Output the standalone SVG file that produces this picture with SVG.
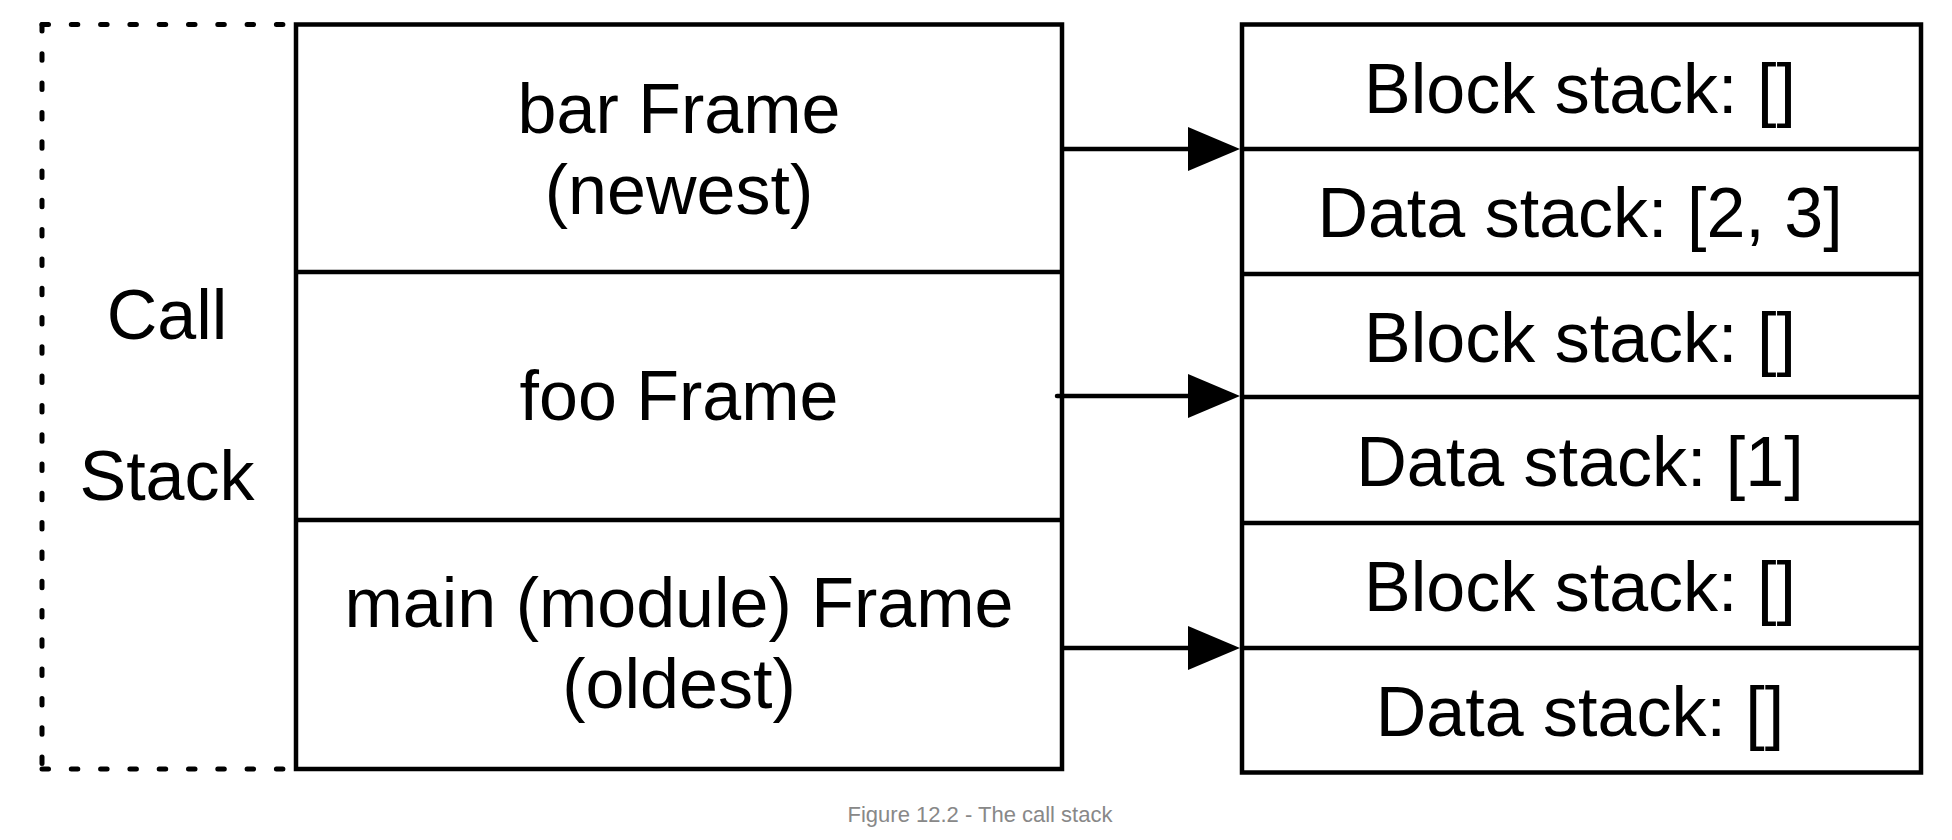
<svg xmlns="http://www.w3.org/2000/svg" width="1952" height="840" viewBox="0 0 1952 840">
<style>
.box{fill:#fff;stroke:#000;stroke-width:4.5}
.sep{stroke:#000;stroke-width:4.5}
.dot{fill:none;stroke:#000;stroke-width:5;stroke-linecap:round;stroke-dasharray:6.5 22.8}
.t{font-family:"Liberation Sans",Arial,Helvetica,sans-serif;font-size:70px;fill:#000;text-anchor:middle}
.cap{font-family:"Liberation Sans",Arial,Helvetica,sans-serif;font-size:22px;fill:#888;text-anchor:middle}
.conn{stroke:#000;stroke-width:4.5;fill:none}
</style>
<defs>
<marker id="arr" markerUnits="userSpaceOnUse" markerWidth="52" markerHeight="44" refX="0" refY="22" orient="auto">
<path d="M0,0 L52,22 L0,44 Z" fill="#000"/>
</marker>
</defs>
<rect width="1952" height="840" fill="#fff"/>
<g id="callstack-label">
<path class="dot" d="M42,24.5 H292"/>
<path class="dot" d="M42,24.5 V769"/>
<path class="dot" d="M42,769 H292"/>
<text class="t" x="167" y="339">Call</text>
<text class="t" x="167" y="500">Stack</text>
</g>
<g id="frames">
<rect class="box" x="296" y="24.5" width="766" height="744.5"/>
<line class="sep" x1="296" y1="272" x2="1062" y2="272"/>
<line class="sep" x1="296" y1="520" x2="1062" y2="520"/>
</g>
<g id="bar-frame">
<text class="t" x="679" y="133">bar Frame</text>
<text class="t" x="679" y="214">(newest)</text>
</g>
<g id="foo-frame">
<text class="t" x="679" y="420">foo Frame</text>
</g>
<g id="main-frame">
<text class="t" x="679" y="627">main (module) Frame</text>
<text class="t" x="679" y="708">(oldest)</text>
</g>
<g id="stacks">
<rect class="box" x="1242" y="24.5" width="679" height="748"/>
<line class="sep" x1="1242" y1="149" x2="1921" y2="149"/>
<line class="sep" x1="1242" y1="274" x2="1921" y2="274"/>
<line class="sep" x1="1242" y1="397" x2="1921" y2="397"/>
<line class="sep" x1="1242" y1="523" x2="1921" y2="523"/>
<line class="sep" x1="1242" y1="648" x2="1921" y2="648"/>
</g>
<g id="bar-stacks">
<text class="t" x="1580" y="113">Block stack: []</text>
<text class="t" x="1580" y="237">Data stack: [2, 3]</text>
</g>
<g id="foo-stacks">
<text class="t" x="1580" y="362">Block stack: []</text>
<text class="t" x="1580" y="486">Data stack: [1]</text>
</g>
<g id="main-stacks">
<text class="t" x="1580" y="611">Block stack: []</text>
<text class="t" x="1580" y="736">Data stack: []</text>
</g>
<g id="connectors">
<line class="conn" x1="1062" y1="149" x2="1188" y2="149" marker-end="url(#arr)"/>
<line class="conn" x1="1057" y1="396" x2="1188" y2="396" marker-end="url(#arr)" stroke-linecap="round"/>
<line class="conn" x1="1062" y1="648" x2="1188" y2="648" marker-end="url(#arr)"/>
</g>
<text class="cap" x="980" y="822">Figure 12.2 - The call stack</text>
</svg>
